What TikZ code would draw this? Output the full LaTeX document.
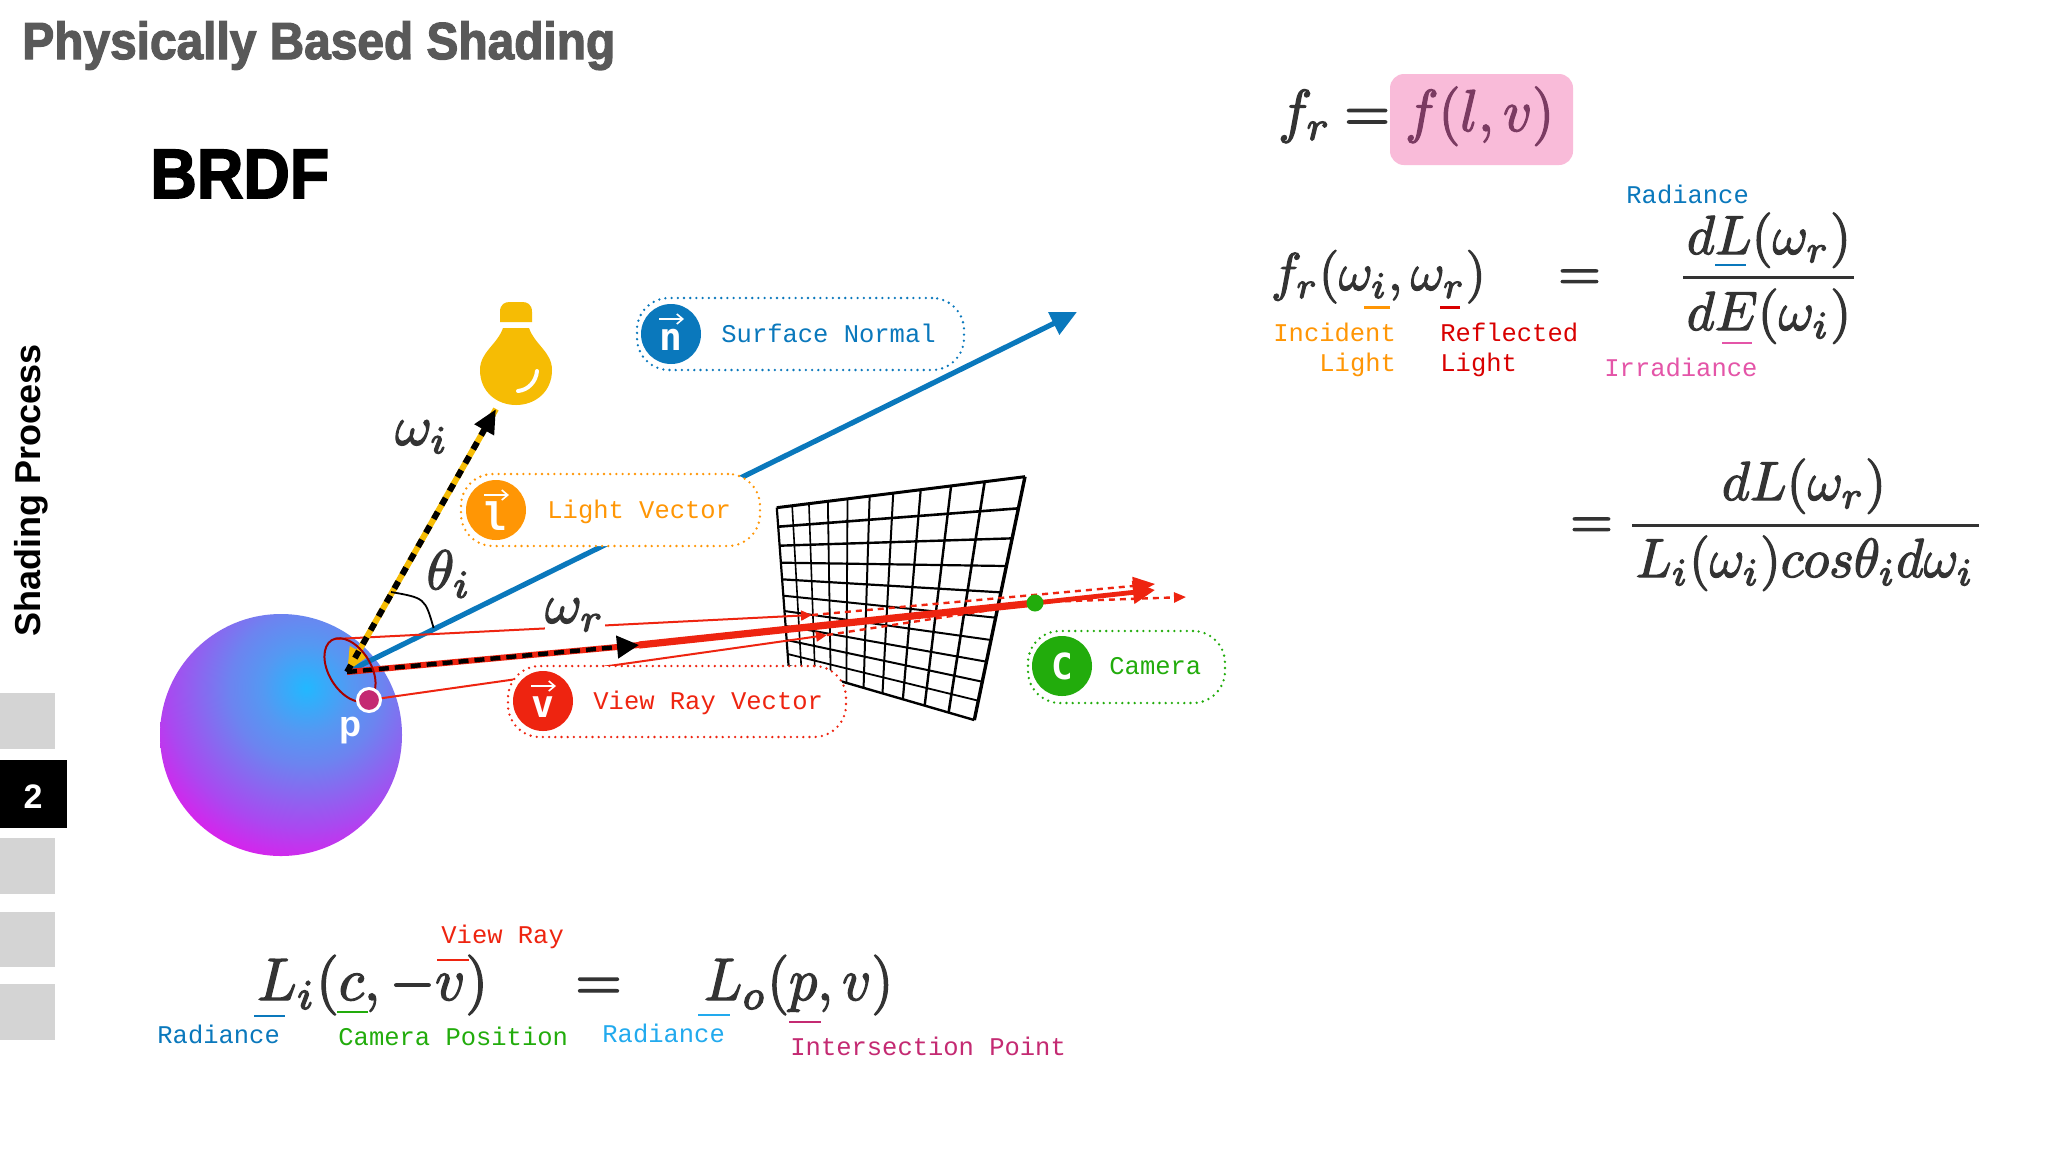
\documentclass[tikz,border=0pt]{standalone}
\usepackage{fontspec}
\usetikzlibrary{arrows.meta,calc}
\setmainfont{Liberation Sans}
\newfontfamily\labelfont{Liberation Mono}
\newfontfamily\heavyfont[BoldFeatures={FakeBold=2.5}]{Liberation Sans}
\newfontfamily\iconfont{DejaVu Sans Mono}
\definecolor{mathc}{HTML}{333333}
\definecolor{nblue}{HTML}{0A78BC}
\definecolor{lblue}{HTML}{22AAEE}
\definecolor{lorange}{HTML}{FF9605}
\definecolor{vred}{HTML}{EE2410}
\definecolor{cgreen}{HTML}{22AC0C}
\definecolor{ppink}{HTML}{E455A8}
\definecolor{pmag}{HTML}{C42A72}
\definecolor{pinkbox}{HTML}{F9BBD9}
\definecolor{pinktext}{HTML}{7B3B62}
\definecolor{bulbc}{HTML}{F6BC04}
\definecolor{sA}{HTML}{22B8FF}
\definecolor{sB}{HTML}{5598F2}
\definecolor{sC}{HTML}{6C84F0}
\definecolor{sD}{HTML}{AA48F0}
\definecolor{sE}{HTML}{D822EC}
\pgfdeclareradialshading{sphshade}{\pgfpoint{0bp}{0bp}}{color(0bp)=(sA);color(5.5bp)=(sB);color(9.5bp)=(sC);color(17.5bp)=(sD);color(22bp)=(sE);color(50bp)=(sE)}
\newcommand{\thk}[1]{\special{pdf:code 2 Tr 0.22 w}#1\special{pdf:code 0 Tr}}
\tikzset{
  mth/.style={inner sep=0pt,anchor=base west,text=mathc,scale=#1},
  lab/.style={inner sep=0pt,anchor=base west,font=\labelfont\fontsize{12.75}{14}\selectfont,text=#1},
  pill/.style={draw=#1,fill=white,rounded corners=16pt,line width=1.3pt,line cap=round,dash pattern=on 0pt off 3.1pt,inner sep=0pt},
  badge/.style={circle,fill=#1,inner sep=0pt,minimum size=30pt,text=white,font=\iconfont\bfseries\fontsize{18}{20}\selectfont},
  under/.style={line width=1.4pt,draw=#1},
  thinred/.style={draw=vred,line width=1pt},
  dashred/.style={draw=vred,line width=1.2pt,dash pattern=on 3pt off 2.5pt},
  iconarrow/.style={draw=white,line width=.8pt,-{Straight Barb[length=3pt,width=5pt]}},
  gridline/.style={draw=black,line width=#1},
}
\begin{document}
\begin{tikzpicture}[x=0.5pt,y=-0.5pt]
\fill[white] (0,0) rectangle (2048,1152);
\useasboundingbox (0,0) rectangle (2048,1152);

% titles
\node[inner sep=0pt,anchor=base west,text=black!65,font=\heavyfont\bfseries\fontsize{26}{28}\selectfont,xscale=.92] (title) at (22,59) {Physically Based Shading};
\node[inner sep=0pt,anchor=base west,text=black,font=\heavyfont\bfseries\fontsize{35}{38}\selectfont,xscale=.92] (brdf) at (150,198) {BRDF};
\node[inner sep=0pt,rotate=90,text=black,font=\bfseries\fontsize{18}{20}\selectfont] (side) at (31,490) {Shading Process};

% sidebar
\fill[black!17] (0,693) rectangle (55,749);
\node[fill=black,inner sep=0pt,minimum width=33.5pt,minimum height=34pt] (act) at (33.5,794) {};
\node[inner sep=0pt,text=white,font=\bfseries\fontsize{17}{19}\selectfont] (actn) at (33,797) {2};
\fill[black!17] (0,838) rectangle (55,894);
\fill[black!17] (0,912) rectangle (55,967);
\fill[black!17] (0,984) rectangle (55,1040);

% sphere
\begin{scope}
\clip (281,735) circle [radius=121];
\shade[shading=sphshade] (106,488) rectangle (506,888);
\end{scope}

% grid
\begin{scope}[shift={(350pt,-140pt)},x=0.17857pt,y=-0.16667pt]
\foreach \a/\b/\c/\d/\w in {
 215/683/248/1158/1.1pt, 258/677/284/1169/.8pt, 305/671/322/1181/.8pt, 358/664/366/1195/.9pt,
 413/657/410/1208/.9pt, 475/648/458/1223/1pt, 541/639/511/1240/1pt, 618/629/568/1258/1.1pt,
 703/618/629/1277/1.2pt, 797/605/696/1298/1.3pt, 910/590/768/1320/1.7pt,
 215/683/910/590/1.5pt, 219/740/891.5/685/1.3pt, 223/797/874/775/1.2pt, 226.5/848/858/858/1.1pt,
 230/898/842.5/937/1.1pt, 233/947/828/1013/1pt, 236.5/993/815/1080/1pt, 240/1038/802/1145/1pt,
 242.5/1080/790/1205/1pt, 245.5/1122/779/1262/.9pt, 248/1158/768/1320/1.2pt}
 \draw[gridline=\w] (\a,\b) -- (\c,\d);
\end{scope}

% key points
\coordinate (P) at (347,672);
\coordinate (nTip) at (1077,312);
\coordinate (lTip) at (496,409);
\coordinate (vHead) at (639,645);
\coordinate (vTip) at (1155,590);
\coordinate (cam) at (1035,603);
\coordinate (redA) at (335,639);
\coordinate (redB) at (812,615);
\coordinate (redBTip) at (1155,584);
\coordinate (redC) at (369,700);
\coordinate (redD) at (827,635);
\coordinate (redDMid) at (1043,602);
\coordinate (redDTip) at (1186,597);

% normal
\draw[nblue,line width=2.6pt,-{Triangle[length=13pt,width=12pt]}] (P) -- (nTip);

% red rays
\draw[thinred,-{Triangle[length=5.5pt,width=5pt]}] (redA) -- (redB);
\draw[thinred,-{Triangle[length=5.5pt,width=5pt]}] (redC) -- (redD);
\draw[dashred,-{Triangle[length=11pt,width=9pt]}] (redB) -- (redBTip);
\draw[dashred] (redD) -- (redDMid);
\draw[dashred,-{Triangle[length=6pt,width=5pt]}] (redDMid) -- (redDTip);
\draw[vred,line width=3pt] (P) -- (vHead);
\draw[vred,line width=3.6pt] (vHead) -- (cam);
\draw[vred,line width=2.4pt,-{Triangle[length=11pt,width=11pt]}] (cam) -- (vTip);
\draw[black,line width=2.2pt,dash pattern=on 5pt off 3pt,-{Triangle[length=11pt,width=11pt]}] (P) -- (vHead);

% light vector
\draw[bulbc,line width=3pt,-{Triangle[length=12pt,width=9.5pt]}] (lTip) -- (P);
\draw[black,line width=3pt,dash pattern=on 4pt off 4pt,-{Triangle[length=12pt,width=10.5pt]}] (P) -- (lTip);

% footprint and point on sphere
\draw[draw=red!65!black,line width=1pt,shift={(350,670)},rotate=-58.6] (0,0) ellipse [x radius=35,y radius=21];
\node[circle,draw=white,fill=pmag,line width=1.5pt,inner sep=0pt,minimum size=11.5pt] (pt) at (369,700) {};
\node[inner sep=0pt,text=white,font=\bfseries\fontsize{18}{20}\selectfont] (plab) at (350,731) {p};

% angle
\coordinate (arcA) at (391,592);
\coordinate (arcB) at (433.6,628);
\draw[black,line width=.9pt] (arcA) .. controls (425,598) .. (arcB);

% bulb
\fill[bulbc] (500,322) -- (500,312) .. controls (500,304) and (505,302) .. (510,302) -- (522,302) .. controls (527,302) and (532,304) .. (532,312) -- (532,322) -- cycle;
\fill[bulbc] (503,328) -- (529,328) .. controls (535,345) and (552,352) .. (552,370) .. controls (552,392) and (535,405) .. (516,405) .. controls (497,405) and (480,392) .. (480,370) .. controls (480,352) and (497,345) .. (503,328) -- cycle;
\draw[white,line width=2pt,line cap=round] (537,371) .. controls (536,382) and (528,390) .. (518,391);

% greek labels on the diagram
\node[mth=2.8,anchor=center] (wi) at (422,437) {\thk{$\omega_i$}};
\node[mth=2.8,anchor=center] (ti) at (449,574) {\thk{$\theta_i$}};
\node[fill=white,inner sep=0pt,scale=2.8,text=mathc] (wr) at (575,615) {\thk{$\omega_r$}};

% pills
\node[pill=nblue,minimum width=163.5pt,minimum height=36pt] (pn) at (800.5,334) {};
\node[pill=lorange,minimum width=149.5pt,minimum height=36pt] (pl) at (610.5,510) {};
\node[pill=vred,minimum width=169pt,minimum height=35.5pt] (pv) at (677,701.5) {};
\node[pill=cgreen,minimum width=98.5pt,minimum height=36pt] (pc) at (1126.5,667) {};

\node[badge=nblue] (bn) at (671,334) {};
\node[badge=lorange] (bl) at (496,510) {};
\node[badge=vred] (bv) at (543,701) {};
\node[badge=cgreen] (bc) at (1062,666) {C};
\node[inner sep=0pt,text=white,font=\iconfont\bfseries\fontsize{19}{20}\selectfont] (tn) at (671,340) {n};
\node[inner sep=0pt,text=white,font=\iconfont\bfseries\fontsize{19}{20}\selectfont] (tl) at (496,516) {l};
\node[inner sep=0pt,text=white,font=\iconfont\bfseries\fontsize{19}{20}\selectfont] (tv) at (543,707) {v};
\draw[iconarrow] ($(bn.center)+(-12,-15)$) -- ($(bn.center)+(13,-15)$);
\draw[iconarrow] ($(bl.center)+(-12,-15)$) -- ($(bl.center)+(13,-15)$);
\draw[iconarrow] ($(bv.center)+(-12,-15)$) -- ($(bv.center)+(13,-15)$);

\node[lab=nblue] (ln) at (721,342) {Surface Normal};
\node[lab=lorange] (ll) at (547,518) {Light Vector};
\node[lab=vred] (lv) at (593,709) {View Ray Vector};
\node[lab=cgreen] (lc) at (1109,674) {Camera};

% camera dot
\node[circle,fill=cgreen,inner sep=0pt,minimum size=8.5pt] (cdot) at (1035,603) {};

% equation: f_r = f(l,v)
\node[fill=pinkbox,rounded corners=7pt,inner sep=0pt,minimum width=91.5pt,minimum height=45.5pt] (pb) at (1481.5,119.5) {};
\node[mth=2.95,xscale=.97] (e1a) at (1277,131) {\thk{$f_r$}};
\node[mth=2.95] (e1b) at (1343,131) {\thk{$=$}};
\node[mth=2.95,text=pinktext,xscale=.95] (e1c) at (1404,131) {\thk{$f(l,v)$}};

% equation 2
\node[mth=2.65,xscale=.97] (e2a) at (1270,290) {\thk{$f_r(\omega_i,\omega_r)$}};
\node[mth=2.75] (e2b) at (1557,290) {\thk{$=$}};
\node[mth=2.75,anchor=base,xscale=.98] (e2c) at (1769,254) {\thk{$dL(\omega_r)$}};
\node[mth=2.75,anchor=base,xscale=.98] (e2d) at (1769,330) {\thk{$dE(\omega_i)$}};
\coordinate (f2a) at (1683,277); \coordinate (f2b) at (1854,277);
\draw[mathc,line width=1.5pt] (f2a) -- (f2b);
\draw[under=nblue] (1715,265) -- (1746,265);
\draw[under=ppink] (1722,343) -- (1752,343);
\draw[under=lorange] (1364,307.5) -- (1390,307.5);
\draw[under=red!85!black] (1440,307.5) -- (1460,307.5);
\node[lab=nblue] (t1) at (1626,203) {Radiance};
\node[lab=lorange] (t2) at (1273,341) {Incident};
\node[lab=lorange] (t3) at (1319,371) {Light};
\node[lab=red!85!black] (t4) at (1440,341) {Reflected};
\node[lab=red!85!black] (t5) at (1440,371) {Light};
\node[lab=ppink] (t6) at (1604,376) {Irradiance};

% equation 3
\node[mth=2.75] (e3a) at (1569,538) {\thk{$=$}};
\node[mth=2.75,anchor=base,xscale=.98] (e3b) at (1804,500) {\thk{$dL(\omega_r)$}};
\node[mth=2.75,anchor=base,xscale=.96] (e3c) at (1805,577) {\thk{$L_i(\omega_i)cos\theta_i d\omega_i$}};
\coordinate (f3a) at (1632,525); \coordinate (f3b) at (1979,525);
\draw[mathc,line width=1.5pt] (f3a) -- (f3b);

% equation 4
\node[mth=3,xscale=.97] (e4a) at (256,1000) {\thk{$L_i(c,-v)$}};
\node[mth=3] (e4b) at (574,1000) {\thk{$=$}};
\node[mth=3,xscale=.935] (e4c) at (703,1000) {\thk{$L_o(p,v)$}};
\draw[under=nblue] (254,1016) -- (285,1016);
\draw[under=cgreen] (337,1012) -- (368,1012);
\draw[under=vred] (437,960) -- (469,960);
\draw[under=lblue] (698,1015) -- (730,1015);
\draw[under=pmag] (789,1022) -- (821,1022);
\node[lab=vred] (t7) at (441,943) {View Ray};
\node[lab=nblue] (t8) at (157,1043) {Radiance};
\node[lab=cgreen] (t9) at (338,1045) {Camera Position};
\node[lab=lblue] (t10) at (602,1042) {Radiance};
\node[lab=pmag] (t11) at (790,1055) {Intersection Point};
\end{tikzpicture}
\end{document}
